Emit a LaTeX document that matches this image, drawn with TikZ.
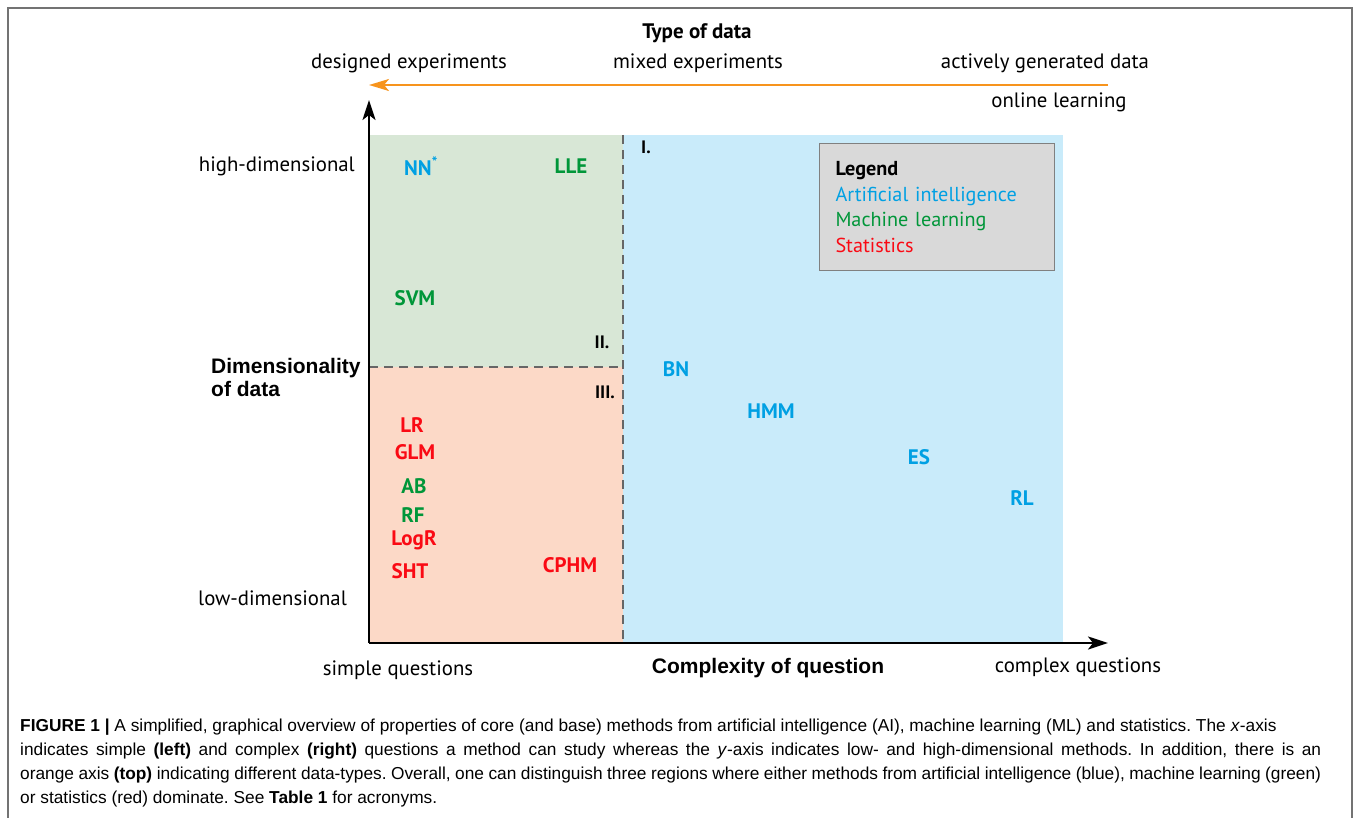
\documentclass[tikz,border=0pt]{standalone}
\usepackage{fontspec}
\setmainfont{PT Sans}
\newfontfamily\helv{Liberation Sans}
\usetikzlibrary{arrows.meta}
\frenchspacing

\definecolor{aiblue}{RGB}{0,160,227}
\definecolor{mlgreen}{RGB}{0,150,57}
\definecolor{statred}{RGB}{250,10,20}
\definecolor{aibg}{RGB}{201,235,250}
\definecolor{mlbg}{RGB}{216,231,214}
\definecolor{statbg}{RGB}{252,217,199}
\definecolor{dataorange}{RGB}{247,148,29}
\definecolor{legendgray}{RGB}{217,217,217}

\tikzset{
  every node/.style={inner sep=0pt},
  axislabel/.style={font=\fontsize{20.8}{23}\selectfont},
  axistitle/.style={font=\helv\bfseries\fontsize{21}{23}\selectfont},
  method/.style={font=\bfseries\fontsize{21}{23}\selectfont},
  region/.style={font=\bfseries\fontsize{18}{20}\selectfont},
  splitline/.style={dashed,dash pattern=on 9pt off 6pt,line width=1.3pt,black!60},
  axisarrow/.style={line width=2.4pt,-{Stealth[length=20pt,width=13pt,inset=5pt]}}
}

\begin{document}
\begin{tikzpicture}[x=1pt,y=-1pt]
\useasboundingbox (0,0) rectangle (1354,818);
\draw[black!55,line width=1.2pt] (8,818) -- (8,8) -- (1352,8) -- (1352,818);

% regions I, II, III
\fill[aibg] (623,135) rectangle (1063,643);
\fill[mlbg] (369,135) rectangle (623,367);
\fill[statbg] (369,367) rectangle (623,643);
\draw[splitline] (623,135) -- (623,643);
\draw[splitline] (369,367) -- (623,367);

% axes
\coordinate (O) at (369,643);
\coordinate (ytip) at (369,100);
\coordinate (xtip) at (1108,643);
\coordinate (dstart) at (1108,85);
\coordinate (dtip) at (369,85);
\draw[axisarrow] (O) -- (ytip);
\draw[axisarrow] (O) -- (xtip);
\draw[axisarrow,line width=2.2pt,dataorange,-{Stealth[length=20pt,width=12pt,inset=5pt]}] (dstart) -- (dtip);

% axis labels
\node[method] (typedata) at (697,33) {Type of data};
\node[axislabel] (designed) at (409,63) {designed experiments};
\node[axislabel] (mixed) at (698,63) {mixed experiments};
\node[axislabel] (active) at (1045,63) {actively generated data};
\node[axislabel] (online) at (1059,102) {online learning};
\node[axislabel,anchor=east] (high) at (355,166) {high-dimensional};
\node[axislabel,anchor=east] (low) at (347,598) {low-dimensional};
\node[axistitle,align=left,anchor=west] (dim) at (211,377) {Dimensionality\\of data};
\node[axislabel] (simple) at (398,670) {simple questions};
\node[axistitle] (complexity) at (768,668) {Complexity of question};
\node[axislabel] (complex) at (1078,667) {complex questions};

% region numbers
\node[region] (rI) at (646,147) {I.};
\node[region] (rII) at (602,342) {II.};
\node[region] (rIII) at (605,392) {III.};

% methods
\node[method,text=aiblue] (nn) at (421,166) {NN\textsuperscript{*}};
\node[method,text=mlgreen] (lle) at (571,166) {LLE};
\node[method,text=mlgreen] (svm) at (415,298) {SVM};
\node[method,text=aiblue] (bn) at (676,369) {BN};
\node[method,text=aiblue] (hmm) at (771,411) {HMM};
\node[method,text=aiblue] (es) at (919,457) {ES};
\node[method,text=aiblue] (rl) at (1022,498) {RL};
\node[method,text=statred] (lr) at (412,425) {LR};
\node[method,text=statred] (glm) at (415,452) {GLM};
\node[method,text=mlgreen] (ab) at (414,486) {AB};
\node[method,text=mlgreen] (rf) at (413,515) {RF};
\node[method,text=statred] (logr) at (414,540) {LogR};
\node[method,text=statred] (sht) at (410,571) {SHT};
\node[method,text=statred] (cphm) at (570,565) {CPHM};

% legend
\node[draw=black!50,line width=1pt,fill=legendgray,anchor=north west,
  minimum width=235pt,minimum height=127pt,text width=203pt,inner xsep=16pt,
  align=left,font=\fontsize{20.2}{25.5}\selectfont] (legend) at (819,143)
  {\textbf{Legend}\\\textcolor{aiblue}{Artificial intelligence}\\
   \textcolor{mlgreen}{Machine learning}\\\textcolor{statred}{Statistics}};

% caption
\node[anchor=north west,text width=1301pt,align=justify,
  font=\helv\fontsize{17.3}{24}\selectfont] (caption) at (20,719)
  {\textbf{FIGURE 1 |} A simplified, graphical overview of properties of core (and base) methods from artificial intelligence (AI), machine learning (ML) and statistics. The \textit{x}-axis\newline
  indicates simple \textbf{(left)} and complex \textbf{(right)} questions a method can study whereas the \textit{y}-axis indicates low- and high-dimensional methods. In addition, there is an\linebreak
  orange axis \textbf{(top)} indicating different data-types. Overall, one can distinguish three regions where either methods from artificial intelligence (blue), machine learning (green)\linebreak
  or statistics (red) dominate. See \textbf{Table 1} for acronyms.};
\end{tikzpicture}
\end{document}
